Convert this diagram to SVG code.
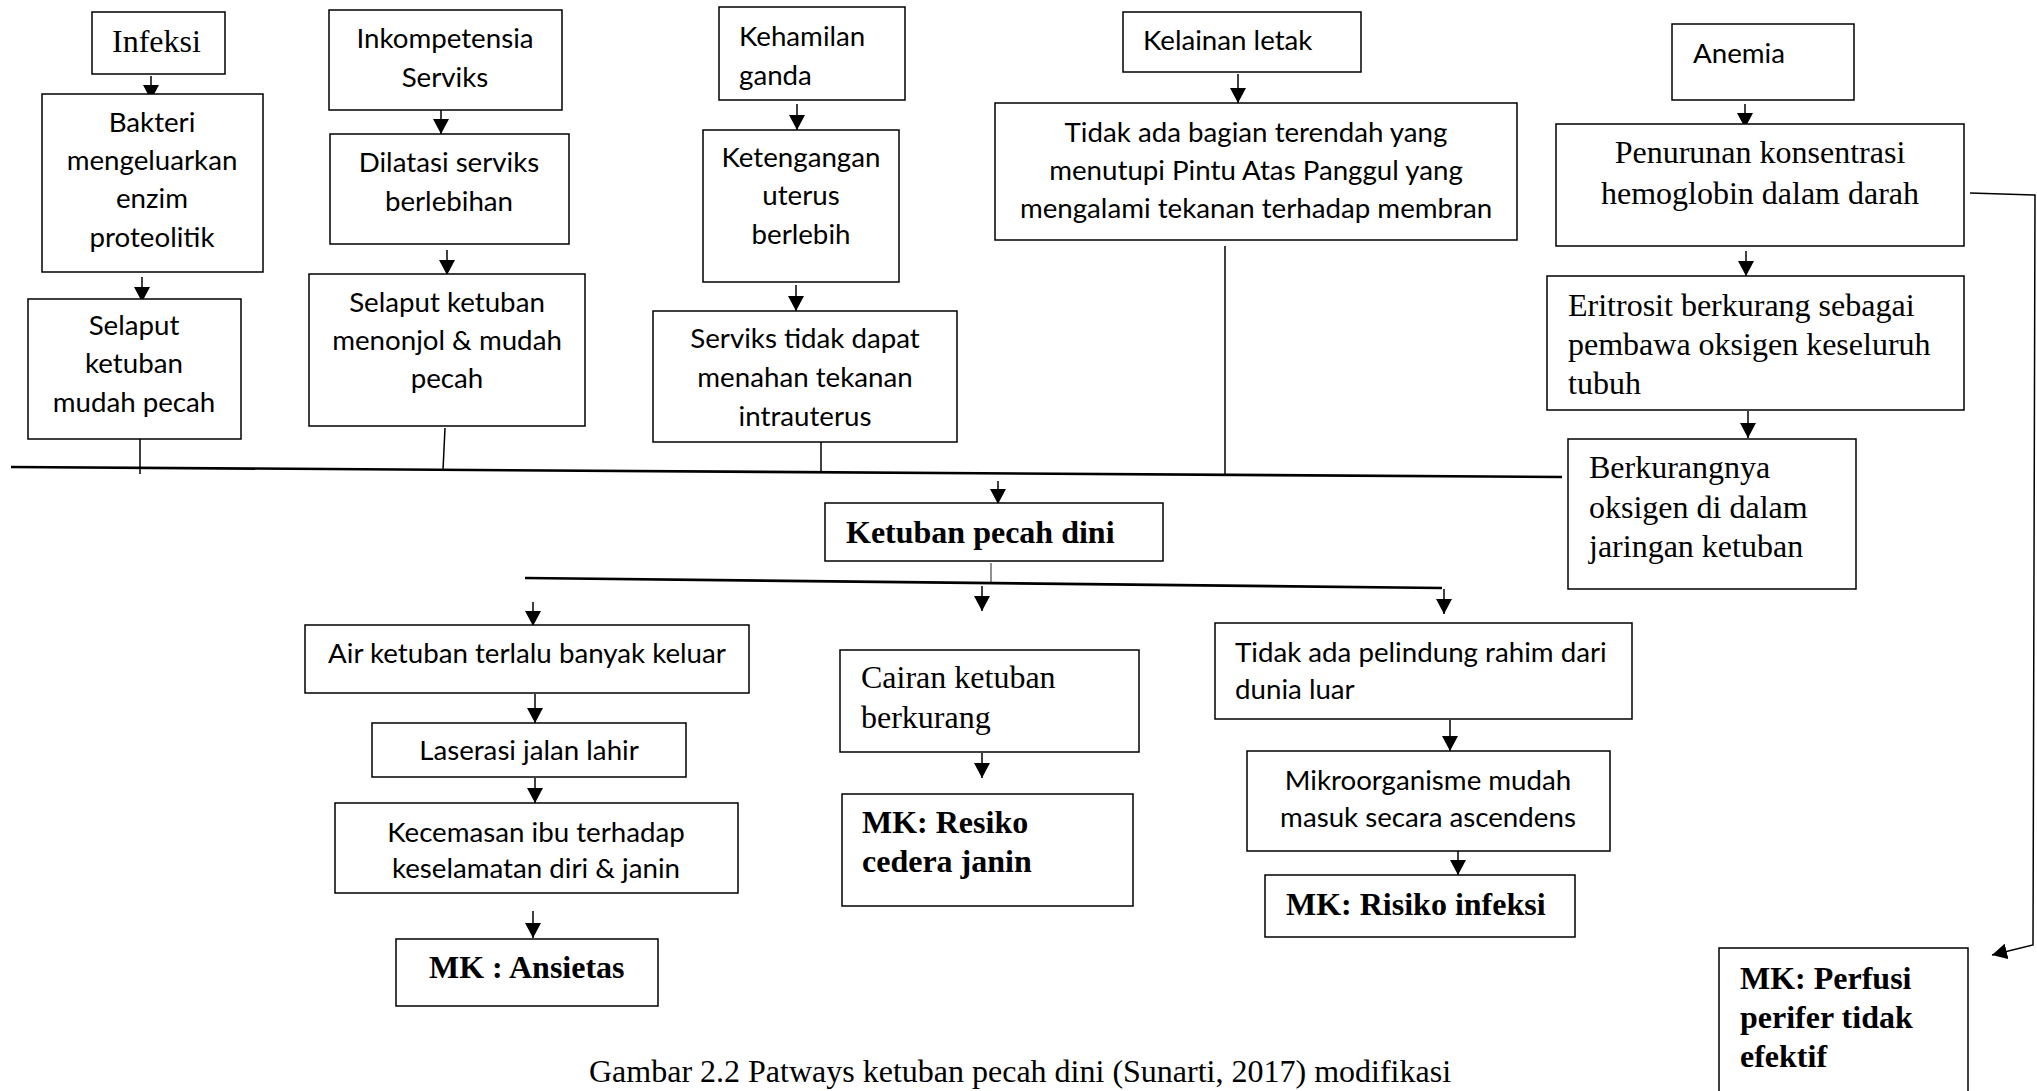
<svg xmlns="http://www.w3.org/2000/svg" width="2037" height="1091" viewBox="0 0 2037 1091">
<style>
rect{fill:#fff;stroke:#000;stroke-width:1.5}
.c{font-family:Lato,"Liberation Sans",sans-serif;font-size:27.7px;fill:#000}
.t{font-family:"Liberation Serif","Times New Roman",serif;font-size:32px;fill:#000}
.b{font-family:"Liberation Serif","Times New Roman",serif;font-size:32px;font-weight:bold;fill:#000}
.m{text-anchor:middle}
.ln{stroke:#000;stroke-width:1.5;fill:none}
.ar{stroke:#000;stroke-width:1.5;fill:none;marker-end:url(#ah)}
.main{stroke:#000;stroke-width:2.6;fill:none}
</style>
<defs>
<marker id="ah" markerUnits="userSpaceOnUse" viewBox="0 0 15 16" refX="15" refY="8" markerWidth="15" markerHeight="16" orient="auto">
<path d="M0,0 L15,8 L0,16 z" fill="#000"/>
</marker>
</defs>
<rect x="0" y="0" width="2037" height="1091" style="stroke:none"/>
<g id="connectors">
<line class="ar" x1="151" y1="76" x2="151" y2="100"/>
<line class="ar" x1="142" y1="277" x2="142" y2="302"/>
<line class="ln" x1="140" y1="432" x2="140" y2="474"/>
<line class="ar" x1="441" y1="108" x2="441" y2="134"/>
<line class="ar" x1="447" y1="250" x2="447" y2="275"/>
<line class="ln" x1="445" y1="428" x2="443" y2="470"/>
<line class="ar" x1="797" y1="104" x2="797" y2="130"/>
<line class="ar" x1="796" y1="285" x2="796" y2="311"/>
<line class="ln" x1="821" y1="433" x2="821" y2="472"/>
<line class="ar" x1="1238" y1="74" x2="1238" y2="103"/>
<line class="ln" x1="1225" y1="246" x2="1225" y2="474"/>
<line class="ar" x1="1745" y1="104" x2="1745" y2="128"/>
<line class="ar" x1="1746" y1="251" x2="1746" y2="276"/>
<line class="ar" x1="1748" y1="411" x2="1748" y2="438"/>
<line class="main" x1="11" y1="467" x2="1562" y2="477"/>
<polyline class="ar" points="1970,193 2035,195 2033,945 1992,955"/>
<line class="ar" x1="998" y1="481" x2="998" y2="504"/>
<line x1="991" y1="563" x2="991" y2="582" stroke="#555" stroke-width="1.3"/>
<line class="main" x1="525" y1="578" x2="1442" y2="588"/>
<line class="ar" x1="533" y1="602" x2="533" y2="626"/>
<line class="ar" x1="982" y1="586" x2="982" y2="611"/>
<line class="ar" x1="1444" y1="589" x2="1444" y2="614"/>
<line class="ar" x1="535" y1="694" x2="535" y2="723"/>
<line class="ar" x1="535" y1="778" x2="535" y2="803"/>
<line class="ar" x1="533" y1="911" x2="533" y2="938"/>
<line class="ar" x1="982" y1="753" x2="982" y2="778"/>
<line class="ar" x1="1450" y1="720" x2="1450" y2="751"/>
<line class="ar" x1="1458" y1="851" x2="1458" y2="875"/>
</g>
<g id="n1"><rect x="92" y="12" width="133" height="62"/><text class="t" x="112" y="52">Infeksi</text></g>
<g id="n2"><rect x="329" y="10" width="233" height="100"/><text class="c m" x="445" y="48">Inkompetensia</text><text class="c m" x="445" y="87">Serviks</text></g>
<g id="n3"><rect x="719" y="7" width="186" height="93"/><text class="c" x="739" y="46">Kehamilan</text><text class="c" x="739" y="85">ganda</text></g>
<g id="n4"><rect x="1123" y="12" width="238" height="60"/><text class="c" x="1143" y="50">Kelainan letak</text></g>
<g id="n5"><rect x="1672" y="24" width="182" height="76"/><text class="c" x="1693" y="63">Anemia</text></g>
<g id="n6"><rect x="42" y="94" width="221" height="178"/><text class="c m" x="152" y="132">Bakteri</text><text class="c m" x="152" y="170">mengeluarkan</text><text class="c m" x="152" y="208">enzim</text><text class="c m" x="152" y="247">proteolitik</text></g>
<g id="n7"><rect x="330" y="134" width="239" height="110"/><text class="c m" x="449" y="172">Dilatasi serviks</text><text class="c m" x="449" y="211">berlebihan</text></g>
<g id="n8"><rect x="703" y="130" width="196" height="152"/><text class="c m" x="801" y="167">Ketengangan</text><text class="c m" x="801" y="205">uterus</text><text class="c m" x="801" y="244">berlebih</text></g>
<g id="n9"><rect x="995" y="103" width="522" height="137"/><text class="c m" x="1256" y="142">Tidak ada bagian terendah yang</text><text class="c m" x="1256" y="180">menutupi Pintu Atas Panggul yang</text><text class="c m" x="1256" y="218">mengalami tekanan terhadap membran</text></g>
<g id="n10"><rect x="1556" y="124" width="408" height="122"/><text class="t m" x="1760" y="163">Penurunan konsentrasi</text><text class="t m" x="1760" y="204">hemoglobin dalam darah</text></g>
<g id="n11"><rect x="28" y="299" width="213" height="140"/><text class="c m" x="134" y="335">Selaput</text><text class="c m" x="134" y="373">ketuban</text><text class="c m" x="134" y="412">mudah pecah</text></g>
<g id="n12"><rect x="309" y="274" width="276" height="152"/><text class="c m" x="447" y="312">Selaput ketuban</text><text class="c m" x="447" y="350">menonjol &amp; mudah</text><text class="c m" x="447" y="388">pecah</text></g>
<g id="n13"><rect x="653" y="311" width="304" height="131"/><text class="c m" x="805" y="348">Serviks tidak dapat</text><text class="c m" x="805" y="387">menahan tekanan</text><text class="c m" x="805" y="426">intrauterus</text></g>
<g id="n14"><rect x="1547" y="276" width="417" height="134"/><text class="t" x="1568" y="316">Eritrosit berkurang sebagai</text><text class="t" x="1568" y="355">pembawa oksigen keseluruh</text><text class="t" x="1568" y="394">tubuh</text></g>
<g id="n15"><rect x="1568" y="439" width="288" height="150"/><text class="t" x="1589" y="478">Berkurangnya</text><text class="t" x="1589" y="518">oksigen di dalam</text><text class="t" x="1589" y="557">jaringan ketuban</text></g>
<g id="n16"><rect x="825" y="503" width="338" height="58"/><text class="b" x="846" y="543">Ketuban pecah dini</text></g>
<g id="n17"><rect x="305" y="625" width="444" height="68"/><text class="c m" x="527" y="663">Air ketuban terlalu banyak keluar</text></g>
<g id="n18"><rect x="372" y="723" width="314" height="54"/><text class="c m" x="529" y="760">Laserasi jalan lahir</text></g>
<g id="n19"><rect x="335" y="803" width="403" height="90"/><text class="c m" x="536" y="842">Kecemasan ibu terhadap</text><text class="c m" x="536" y="878">keselamatan diri &amp; janin</text></g>
<g id="n20"><rect x="396" y="939" width="262" height="67"/><text class="b" x="429" y="978">MK : Ansietas</text></g>
<g id="n21"><rect x="840" y="650" width="299" height="102"/><text class="t" x="861" y="688">Cairan ketuban</text><text class="t" x="861" y="728">berkurang</text></g>
<g id="n22"><rect x="842" y="794" width="291" height="112"/><text class="b" x="862" y="833">MK: Resiko</text><text class="b" x="862" y="872">cedera janin</text></g>
<g id="n23"><rect x="1215" y="623" width="417" height="96"/><text class="c" x="1235" y="662">Tidak ada pelindung rahim dari</text><text class="c" x="1235" y="699">dunia luar</text></g>
<g id="n24"><rect x="1247" y="751" width="363" height="100"/><text class="c m" x="1428" y="790">Mikroorganisme mudah</text><text class="c m" x="1428" y="827">masuk secara ascendens</text></g>
<g id="n25"><rect x="1265" y="875" width="310" height="62"/><text class="b" x="1286" y="915">MK: Risiko infeksi</text></g>
<g id="n26"><rect x="1719" y="948" width="249" height="160"/><text class="b" x="1740" y="989">MK: Perfusi</text><text class="b" x="1740" y="1028">perifer tidak</text><text class="b" x="1740" y="1067">efektif</text></g>
<text class="t m" x="1020" y="1082">Gambar 2.2 Patways ketuban pecah dini (Sunarti, 2017) modifikasi</text>
</svg>
